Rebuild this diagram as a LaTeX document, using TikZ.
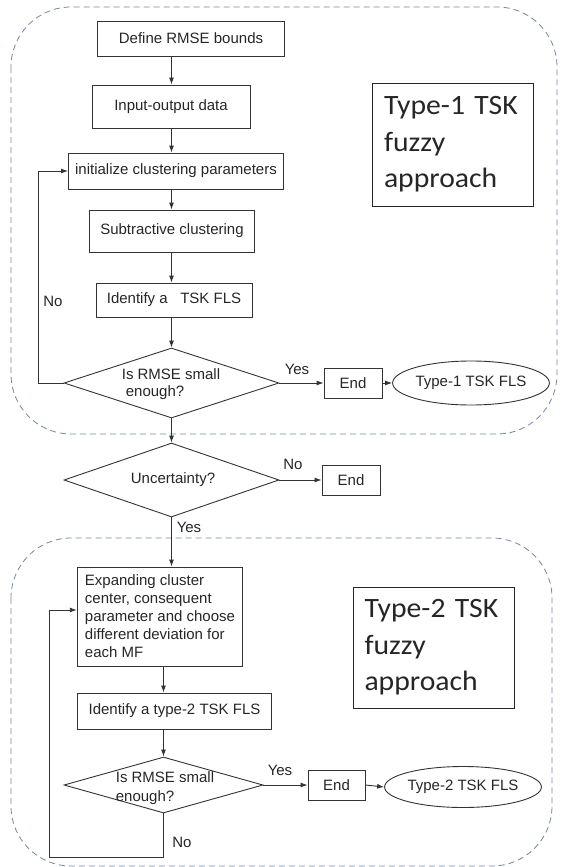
\documentclass[tikz,border=0pt]{standalone}
\usepackage{fontspec}
\setmainfont{Liberation Sans}
\newfontfamily\calibrifont[FakeStretch=1.06]{Carlito}
\usetikzlibrary{shapes.geometric,arrows.meta}
\begin{document}
\begin{tikzpicture}[x=1pt,y=-1pt,
  every node/.style={font=\fontsize{15}{17}\selectfont, text=black!85},
  stepbox/.style={draw=black!80, line width=0.9pt, inner sep=0pt, align=center},
  dia/.style={draw=black!80, line width=0.9pt, diamond, inner sep=0pt, aspect=3},
  ell/.style={draw=black!80, line width=0.9pt, ellipse, inner sep=0pt},
  bigbox/.style={draw=black!85, line width=0.9pt, align=left, inner sep=0pt,
     font=\calibrifont\fontsize{28}{36.5}\selectfont},
  arr/.style={draw=black!80, line width=0.9pt, -{Latex[length=7pt,width=5pt]}},
  region/.style={draw={rgb,255:red,115;green,135;blue,165}, line width=0.8pt,
     dash pattern=on 6pt off 4pt, rounded corners=60pt},
  lbl/.style={inner sep=0pt}
]
\useasboundingbox (0,0) rectangle (560,867);
% dashed regions
\draw[region] (11,7) rectangle (557,434);
\draw[region] (11,538) rectangle (552,866);

% upper part
\node[stepbox, minimum width=187.5pt, minimum height=35pt] (def) at (191,38.5) {Define RMSE bounds};
\node[stepbox, minimum width=158pt, minimum height=43pt] (inp) at (171,106.5) {Input-output data};
\node[stepbox, minimum width=215pt, minimum height=36pt] (init) at (176,171) {initialize clustering parameters};
\node[stepbox, minimum width=165pt, minimum height=42pt] (sub) at (172,231) {Subtractive clustering};
\node[stepbox, minimum width=156pt, minimum height=34pt] (idt) at (174,300) {Identify a\ \ \ TSK FLS};
\node[dia, minimum width=215pt, minimum height=70pt] (d1) at (171.5,383) {};
\node[lbl, align=left] (d1t) at (171,384) {Is RMSE small\\\hspace*{4pt}enough?};
\node[stepbox, minimum width=58pt, minimum height=30pt] (end1) at (353,383) {End};
\node[ell, minimum width=136pt, minimum height=44pt] (out1) at (471,383) {Type-1 TSK FLS};
\node[bigbox, minimum width=161pt, minimum height=123pt, text width=137pt] (t1) at (452.5,144.5) {Type-1 TSK\\fuzzy\\approach};

% middle
\node[dia, minimum width=215pt, minimum height=74pt] (d2) at (171.5,480) {};
\node[lbl] (d2t) at (173,480) {Uncertainty?};
\node[stepbox, minimum width=58pt, minimum height=30pt] (end2) at (351,480) {End};

% lower part
\node[stepbox, minimum width=165.5pt, minimum height=99pt, align=left,
  font=\fontsize{15}{18}\selectfont] (exp) at (160,616.5)
  {Expanding cluster\\center, consequent\\parameter and choose\\different deviation for\\each MF};
\node[stepbox, minimum width=194pt, minimum height=36pt] (idt2) at (174.5,711) {Identify a type-2 TSK FLS};
\node[dia, minimum width=199pt, minimum height=56pt] (d3) at (163.5,785) {};
\node[lbl, align=left, font=\fontsize{15}{19}\selectfont] (d3t) at (165,788) {Is RMSE small\\enough?};
\node[stepbox, minimum width=57pt, minimum height=30pt] (end3) at (336.5,785) {End};
\node[ell, minimum width=134pt, minimum height=41pt] (out2) at (463,787) {Type-2 TSK FLS};
\node[bigbox, minimum width=160.5pt, minimum height=121pt, text width=139pt] (t2) at (434,647.5) {Type-2 TSK\\fuzzy\\approach};

% connectors
\draw[arr] (d1.north |- def.south) -- (d1.north |- inp.north);
\draw[arr] (d1.north |- inp.south) -- (d1.north |- init.north);
\draw[arr] (d1.north |- init.south) -- (d1.north |- sub.north);
\draw[arr] (d1.north |- sub.south) -- (d1.north |- idt.north);
\draw[arr] (d1.north |- idt.south) -- (d1.north);
\draw[arr] (d1.east) -- (end1.west);
\draw[arr] (end1.east) -- (out1.west);
\coordinate (c1) at (38.6,383);
\draw[arr] (d1.west) -- (c1) |- (init.west);
\draw[arr] (d1.south) -- (d2.north);
\draw[arr] (d2.east) -- (end2.west);
\draw[arr] (d2.south) -- (d2.south |- exp.north);
\draw[arr] (d3.north |- exp.south) -- (d3.north |- idt2.north);
\draw[arr] (d3.north |- idt2.south) -- (d3.north);
\draw[arr] (d3.east) -- (end3.west);
\draw[arr] (end3.east) -- (out2.west);
\coordinate (c2) at (49,857);
\draw[arr] (d3.south) |- (c2) |- ([yshift=6.5pt]exp.west);

% labels
\node[lbl] (no1) at (53,301) {No};
\node[lbl] (yes1) at (297,369) {Yes};
\node[lbl] (no2) at (293,464) {No};
\node[lbl] (yes2) at (189,527) {Yes};
\node[lbl] (yes3) at (280,770) {Yes};
\node[lbl] (no3) at (182,842) {No};
\end{tikzpicture}
\end{document}
